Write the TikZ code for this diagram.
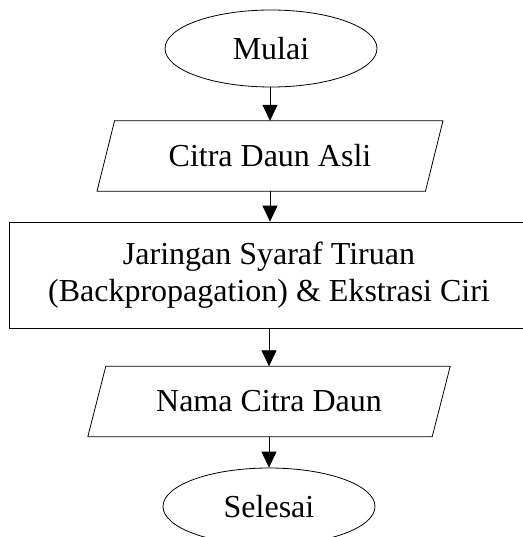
\documentclass[tikz,border=0pt]{standalone}
\usepackage{fontspec}
\setmainfont{Liberation Serif}
\usetikzlibrary{shapes.geometric,arrows.meta}

\begin{document}
\begin{tikzpicture}[x=1pt, y=-1pt,
        terminal/.style = {draw, ellipse, line width=0.8pt, minimum width=212pt, minimum height=77pt, inner sep=0pt},
        inout/.style = {rectangle, minimum height=70pt, inner sep=0pt},
        process/.style = {draw, rectangle, line width=0.8pt, minimum width=520pt, minimum height=106pt, inner sep=0pt, align=center},
        edge/.style = {line width=0.8pt},
        flow/.style = {line width=0.8pt, -{Triangle[width=15pt, length=16pt]}},
        font=\fontsize{32}{37}\selectfont]
        \useasboundingbox (0, 0) rectangle (522, 537);
        \node [terminal] (start) at (271, 48.5) {Mulai};
        \node [inout, minimum width=328pt] (citra) at (270, 156) {Citra Daun Asli};
        \node [process] (jst) at (269, 275) {Jaringan Syaraf Tiruan\\(Backpropagation) \& Ekstrasi Ciri};
        \node [inout, minimum width=344pt] (nama) at (269, 401.5) {Nama Citra Daun};
        \node [terminal] (stop) at (269, 506.5) {Selesai};
        % parallelogram outlines
        \draw [edge] ([xshift=8.75pt]citra.north west) -- ([xshift=8.75pt]citra.north east)
            -- ([xshift=-8.75pt]citra.south east) -- ([xshift=-8.75pt]citra.south west) -- cycle;
        \draw [edge] ([xshift=9pt]nama.north west) -- ([xshift=9pt]nama.north east)
            -- ([xshift=-9pt]nama.south east) -- ([xshift=-9pt]nama.south west) -- cycle;
        \draw [flow] (start.south -| citra.north) -- (citra.north);
        \draw [flow] (citra.south) -- (jst.north -| citra.south);
        \draw [flow] (jst.south -| nama.north) -- (nama.north);
        \draw [flow] (nama.south) -- (stop.north -| nama.south);
\end{tikzpicture}
\end{document}
